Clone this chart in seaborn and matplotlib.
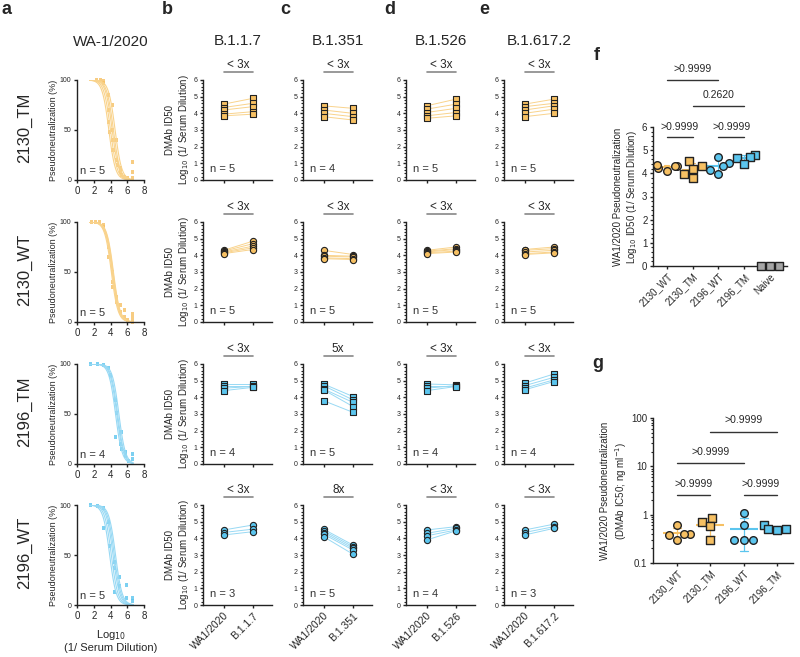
import numpy as np
import pandas as pd
import seaborn as sns
import matplotlib.pyplot as plt
from matplotlib.ticker import MultipleLocator, LogLocator, NullFormatter

W, H = 800, 657

ORANGE = '#F6C063'
ORANGE_LT = '#F9D38C'
BLUE = '#5BC5EE'
BLUE_LT = '#98D9F4'
GREY = '#A6A6A6'
DARK = '#222222'

# ---------------- data ----------------
rows = ['2130_TM', '2130_WT', '2196_TM', '2196_WT']
row_color = [ORANGE, ORANGE, BLUE, BLUE]
row_light = [ORANGE_LT, ORANGE_LT, BLUE_LT, BLUE_LT]
row_marker = ['s', 'o', 's', 'o']

# panel a: fitted ID50 (log10) per animal and measured points
a_id50 = [[3.8, 4.0, 4.2, 4.35, 4.55],
          [4.1, 4.2, 4.25, 4.3, 4.35],
          [4.6, 4.75, 4.85, 5.0],
          [3.9, 4.1, 4.3, 4.45, 4.6]]
a_hill = 1.1
a_px = [[2.3, 2.8, 3.2, 3.2, 3.8, 3.8, 3.8, 3.9, 4.2, 4.2, 4.3, 4.3, 4.7, 4.7, 4.8, 5.2, 5.2, 5.3, 5.7, 6.0, 6.6, 6.6, 6.6],
        [1.7, 2.2, 2.7, 3.2, 3.2, 3.8, 3.8, 4.2, 4.3, 4.3, 4.7, 4.7, 5.2, 5.2, 5.7, 5.7, 6.0, 6.6, 6.6, 6.6],
        [1.6, 2.4, 3.15, 3.8, 4.0, 4.6, 4.7, 4.6, 5.25, 5.2, 5.3, 5.8, 5.8, 6.2, 6.6, 6.6],
        [1.66, 2.4, 3.2, 3.8, 3.2, 3.9, 4.5, 4.5, 5.1, 5.1, 5.9, 4.5, 5.9, 6.6, 6.6]]
a_py = [[100, 100, 99, 97, 85, 70, 58, 48, 75, 50, 40, 30, 40, 20, 15, 12, 8, 5, 3, 2, 18, 8, 2],
        [100, 100, 100, 97, 95, 75, 65, 50, 40, 35, 25, 20, 17, 10, 12, 5, 2, 8, 4, 0],
        [100, 100, 99, 96, 89, 64, 51, 27, 32, 20, 15, 12, 8, 3, 10, 5],
        [100, 99, 97, 83, 77, 59, 43, 37, 28, 19, 20, 13, 7, 7, 4]]

# panels b-e: WA1/2020 vs variant ID50 per row (2130_TM, 2130_WT, 2196_TM, 2196_WT)
variants = ['B.1.1.7', 'B.1.351', 'B.1.526', 'B.1.617.2']
b117_wa = [[4.55, 4.35, 4.2, 3.95, 3.85], [4.3, 4.25, 4.2, 4.15, 4.1], [4.8, 4.7, 4.55, 4.4], [4.5, 4.35, 4.2]]
b117_var = [[4.9, 4.6, 4.4, 4.1, 3.95], [4.85, 4.7, 4.55, 4.45, 4.35], [4.8, 4.7, 4.65, 4.6], [4.8, 4.55, 4.4]]
b1351_wa = [[4.45, 4.2, 4.0, 3.8], [4.3, 4.0, 3.95, 3.85, 3.8], [4.8, 4.7, 4.5, 4.45, 3.8], [4.55, 4.45, 4.35, 4.25, 4.1]]
b1351_var = [[4.3, 4.0, 3.8, 3.6], [4.05, 3.95, 3.9, 3.8, 3.75], [4.05, 3.85, 3.7, 3.45, 3.1], [3.6, 3.5, 3.4, 3.3, 3.05]]
b1526_wa = [[4.45, 4.25, 4.05, 3.85, 3.7], [4.3, 4.25, 4.2, 4.15, 4.1], [4.8, 4.7, 4.55, 4.4], [4.5, 4.3, 4.15, 3.9]]
b1526_var = [[4.85, 4.55, 4.3, 4.05, 3.85], [4.5, 4.4, 4.35, 4.25, 4.2], [4.75, 4.7, 4.7, 4.65], [4.7, 4.6, 4.5, 4.45]]
b16172_wa = [[4.55, 4.4, 4.2, 4.0, 3.8], [4.35, 4.3, 4.2, 4.1, 4.05], [4.85, 4.7, 4.55, 4.45], [4.5, 4.35, 4.2]]
b16172_var = [[4.85, 4.6, 4.45, 4.25, 4.0], [4.5, 4.4, 4.3, 4.2, 4.15], [5.4, 5.2, 5.05, 4.95], [4.85, 4.7, 4.6]]
wa_vals = [b117_wa, b1351_wa, b1526_wa, b16172_wa]
var_vals = [b117_var, b1351_var, b1526_var, b16172_var]
folds = [['< 3x', '< 3x', '< 3x', '< 3x'],
         ['< 3x', '< 3x', '5x', '8x'],
         ['< 3x', '< 3x', '< 3x', '< 3x'],
         ['< 3x', '< 3x', '< 3x', '< 3x']]

# panel f: WA1/2020 log10 ID50 per group
f_groups = ['2130_WT', '2130_TM', '2196_WT', '2196_TM', 'Naive']
f_2130_wt = [4.25, 4.3, 4.35, 4.3, 4.1]
f_2130_tm = [4.55, 4.3, 4.2, 3.95, 3.8]
f_2196_wt = [4.7, 4.45, 4.3, 4.15, 3.95]
f_2196_tm = [4.78, 4.72, 4.68, 4.42]
f_naive = [0, 0, 0]
f_vals = [f_2130_wt, f_2130_tm, f_2196_wt, f_2196_tm, f_naive]

# panel g: DMAb IC50 (ng/ml)
g_groups = ['2130_WT', '2130_TM', '2196_WT', '2196_TM']
g_2130_wt = [0.6, 0.4, 0.4, 0.38, 0.3]
g_2130_tm = [0.87, 0.69, 0.57, 0.3]
g_2196_wt = [1.08, 0.6, 0.3, 0.3, 0.3]
g_2196_tm = [0.62, 0.5, 0.5, 0.48]
g_vals = [g_2130_wt, g_2130_tm, g_2196_wt, g_2196_tm]

grp_color = [ORANGE, ORANGE, BLUE, BLUE, GREY]
grp_marker = ['o', 's', 'o', 's', 's']


def box(l, t, r, b):
    return [l / W, 1 - b / H, (r - l) / W, (b - t) / H]


def fig_text(x, y, s, **kw):
    fig.text(x / W, 1 - y / H, s, **kw)


def style_axis(ax, ysize=5):
    sns.despine(ax=ax)
    ax.tick_params(axis='both', which='major', length=2.5, width=1, color=DARK, pad=1.5)
    ax.tick_params(axis='y', labelsize=ysize)
    for sp in ['left', 'bottom']:
        ax.spines[sp].set_color(DARK)
        ax.spines[sp].set_linewidth(1)


def bracket(ax, x0, x1, y, ty, label):
    ax.plot([x0, x1], [y, y], color='#333333', lw=1, clip_on=False)
    ax.text((x0 + x1) / 2, ty, label, ha='center', va='center', fontsize=7.5, clip_on=False)


sns.set_theme(style='ticks')
plt.rcParams['font.family'] = ['Liberation Sans', 'DejaVu Sans']

fig = plt.figure(figsize=(8, 6.57), dpi=100)

row_top = [80, 222, 364, 505]

# ---------------- panel a ----------------
xs = np.linspace(1.5, 6.7, 120)
for r in range(4):
    top = row_top[r]
    ax = fig.add_axes(box(77, top, 144, top + 100))
    curves = pd.DataFrame([(i, x, 100 / (1 + 10 ** (a_hill * (x - c))))
                           for i, c in enumerate(a_id50[r]) for x in xs],
                          columns=['animal', 'x', 'y'])
    sns.lineplot(data=curves, x='x', y='y', units='animal', estimator=None,
                 color=row_light[r], lw=0.8, ax=ax)
    sns.scatterplot(x=a_px[r], y=a_py[r], marker='s', s=5, color=row_color[r],
                    alpha=0.8, edgecolor='none', ax=ax, clip_on=False)
    ax.set_xlim(0, 8)
    ax.set_ylim(0, 100)
    ax.set_xticks([0, 2, 4, 6, 8])
    ax.set_yticks([0, 50, 100])
    style_axis(ax, ysize=5)
    ax.tick_params(axis='x', labelsize=7)
    ax.set_xlabel('')
    ax.set_ylabel('Pseudoneutralization (%)', fontsize=6.5, labelpad=1)
    ax.text(0.05, 0.04, f'n = {len(a_id50[r])}', transform=ax.transAxes,
            fontsize=8, color='#333333', va='bottom')
    fig_text(25, top + 48, rows[r], rotation=90, ha='center', va='center', fontsize=12)
    if r == 3:
        ax.set_xlabel('Log$_{10}$\n(1/ Serum Dilution)', fontsize=8, labelpad=5)

fig_text(111, 42, 'WA-1/2020', ha='center', va='center', fontsize=11)

# ---------------- panels b-e ----------------
col_left = [203, 303, 406, 504]
for c, v in enumerate(variants):
    left = col_left[c]
    fig_text(left + 35, 41, v, ha='center', va='center', fontsize=11)
    for r in range(4):
        top = row_top[r]
        ax = fig.add_axes(box(left, top, left + 69, top + 100))
        wa = wa_vals[c][r]
        vv = var_vals[c][r]
        n = len(wa)
        df = pd.DataFrame({'animal': list(range(n)) * 2,
                           'pos': [0] * n + [1] * n,
                           'val': wa + vv})
        sns.lineplot(data=df, x='pos', y='val', units='animal', estimator=None,
                     color=row_light[r], lw=0.7, ax=ax)
        sns.scatterplot(data=df, x='pos', y='val', marker=row_marker[r], s=20,
                        color=row_color[r], edgecolor=DARK, linewidth=0.8,
                        ax=ax, zorder=3)
        ax.set_xlim(-0.7, 1.65)
        ax.set_ylim(0, 6)
        ax.set_yticks(range(7))
        ax.yaxis.set_minor_locator(MultipleLocator(0.2))
        ax.tick_params(axis='y', which='minor', length=1.5, width=0.8, color=DARK)
        ax.set_xticks([0, 1])
        style_axis(ax, ysize=5)
        if r == 3:
            ax.set_xticklabels(['WA1/2020', v], rotation=45, ha='right',
                               rotation_mode='anchor', fontsize=7.5)
        else:
            ax.set_xticklabels([])
        ax.set_xlabel('')
        if c == 0:
            ax.set_ylabel('DMAb ID50\nLog$_{10}$ (1/ Serum Dilution)', fontsize=7, labelpad=2)
        else:
            ax.set_ylabel('')
        ax.text(0.1, 0.06, f'n = {n}', transform=ax.transAxes,
                fontsize=8, color='#333333', va='bottom')
        trans = ax.get_xaxis_transform()
        ax.plot([0, 1], [1.08, 1.08], color='#888888', lw=1.2, transform=trans, clip_on=False)
        ax.text(0.5, 1.15, folds[c][r], transform=trans, ha='center', va='center', fontsize=8.5)

# ---------------- panel f ----------------
axf = fig.add_axes(box(653, 127, 787, 266))
for g, vals, col, m in zip(f_groups, f_vals, grp_color, grp_marker):
    sns.pointplot(x=[g] * len(vals), y=vals, order=f_groups, color=col,
                  markers='_', markersize=16, markeredgewidth=1.5, linestyle='none',
                  errorbar='sd', capsize=0.2, err_kws={'linewidth': 0.8}, ax=axf)
for g, vals, col, m in zip(f_groups, f_vals, grp_color, grp_marker):
    sns.swarmplot(x=[g] * len(vals), y=vals, order=f_groups, color=col, marker=m,
                  size=5.5, edgecolor=DARK, linewidth=1, ax=axf)
for coll in axf.collections:
    coll.set_clip_on(False)
axf.set_xlim(-0.54, 4.66)
axf.set_ylim(0, 6)
axf.set_yticks(range(7))
axf.yaxis.set_minor_locator(MultipleLocator(0.2))
axf.tick_params(axis='y', which='minor', length=1.5, width=0.8, color=DARK)
style_axis(axf, ysize=7)
axf.set_xticks(range(5))
axf.set_xticklabels(f_groups, rotation=45, ha='right', rotation_mode='anchor', fontsize=7)
axf.set_xlabel('')
axf.set_ylabel('WA1/2020 Pseudoneutralization\nLog$_{10}$ ID50 (1/ Serum Dilution)', fontsize=7, labelpad=2)
bracket(axf, 0, 1, 5.55, 6.0, '>0.9999')
bracket(axf, 2, 3, 5.55, 6.0, '>0.9999')
bracket(axf, 1, 3, 6.9, 7.4, '0.2620')
bracket(axf, 0, 2, 8.05, 8.5, '>0.9999')

# ---------------- panel g ----------------
axg = fig.add_axes(box(653, 418, 793, 563))
for g, vals, col, m in zip(g_groups, g_vals, grp_color, grp_marker):
    sns.pointplot(x=[g] * len(vals), y=vals, order=g_groups, color=col,
                  markers='_', markersize=20, markeredgewidth=1.5, linestyle='none',
                  errorbar='sd', capsize=0.25, err_kws={'linewidth': 0.9}, ax=axg)
for g, vals, col, m in zip(g_groups, g_vals, grp_color, grp_marker):
    sns.swarmplot(x=[g] * len(vals), y=vals, order=g_groups, color=col, marker=m,
                  size=5.5, edgecolor=DARK, linewidth=1, ax=axg)
axg.set_yscale('log')
axg.set_xlim(-0.72, 3.48)
axg.set_ylim(0.1, 100)
axg.set_yticks([0.1, 1, 10, 100])
axg.set_yticklabels(['0.1', '1', '10', '100'])
axg.yaxis.set_minor_locator(LogLocator(base=10, subs=np.arange(2, 10), numticks=20))
axg.yaxis.set_minor_formatter(NullFormatter())
style_axis(axg, ysize=7)
axg.tick_params(axis='y', which='minor', length=1.5, width=0.8, color=DARK, left=True)
axg.set_xticks(range(4))
axg.set_xticklabels(g_groups, rotation=45, ha='right', rotation_mode='anchor', fontsize=7)
axg.set_xlabel('')
axg.set_ylabel('WA1/2020 Pseudoneutralization\n(DMAb IC50; ng ml$^{-1}$)', fontsize=7, labelpad=2)
bracket(axg, 0, 1, 2.5, 4.3, '>0.9999')
bracket(axg, 2, 3, 2.5, 4.3, '>0.9999')
bracket(axg, 0, 2, 11.5, 20, '>0.9999')
bracket(axg, 1, 3, 52, 91, '>0.9999')

# ---------------- panel letters ----------------
for lab, x, y in [('a', 1, 10), ('b', 162, 10), ('c', 280, 10), ('d', 384, 10),
                  ('e', 479, 10), ('f', 594, 55), ('g', 592, 363)]:
    fig_text(x, y, lab, fontsize=13, fontweight='bold', ha='left', va='center')

fig.savefig('out.png', dpi=100)
